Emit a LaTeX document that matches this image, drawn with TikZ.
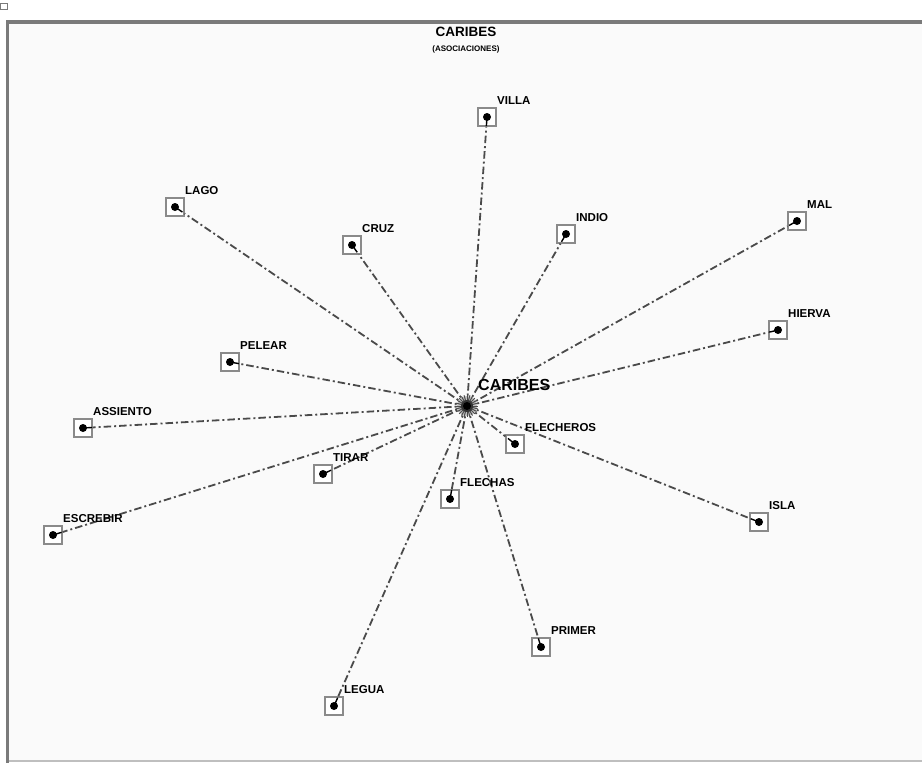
\documentclass[tikz,border=0pt]{standalone}
\usepackage{fontspec}
\setmainfont{Liberation Sans}
\usetikzlibrary{calc}
\definecolor{edgecol}{HTML}{4A4A4A}
\definecolor{framecol}{HTML}{7A7A7A}
\definecolor{boxcol}{HTML}{8A8A8A}
\begin{document}
\begin{tikzpicture}[x=1pt,y=-1pt,
  edge/.style={draw=edgecol,line width=1.8pt,dash pattern=on 7.5pt off 3pt on 2pt off 3pt},
  tipline/.style={draw=black,line width=1.4pt},
  nbox/.style={draw=boxcol,line width=1.2pt,fill=white,minimum size=18pt,inner sep=0pt,rectangle},
  ndot/.style={circle,fill=black,minimum size=8pt,inner sep=0pt},
  nlabel/.style={anchor=base west,font=\fontsize{11.5}{12}\selectfont\bfseries,inner sep=0pt}
]
\useasboundingbox (0,0) rectangle (922,763);
\fill[white] (0,0) rectangle (922,763);
\fill[black!2] (9,23) rectangle (922,760);
% frame
\draw[framecol,line width=3.5pt] (7.5,763) -- (7.5,22) -- (922,22);
\draw[black!25,line width=1.5pt] (9,761) -- (922,761);
\draw[framecol,line width=0.8pt] (0.5,3.5) rectangle (7.5,9.5);
% title
\node[font=\fontsize{13.5}{14}\selectfont\bfseries] (title) at (466,32) {CARIBES};
\node[font=\fontsize{8}{9}\selectfont\bfseries] (subtitle) at (466,49.5) {(ASOCIACIONES)};
% hub
\coordinate (hub) at (467,406);
% nodes
\foreach \nm/\x/\y in {VILLA/487/117, LAGO/175/207, CRUZ/352/245, INDIO/566/234, MAL/797/221,
  HIERVA/778/330, PELEAR/230/362, ASSIENTO/83/428, TIRAR/323/474, FLECHEROS/515/444,
  FLECHAS/450/499, ISLA/759/522, ESCREBIR/53/535, PRIMER/541/647, LEGUA/334/706}{
  \node[nbox] (b\nm) at (\x,\y) {};
}
\foreach \nm in {VILLA,LAGO,CRUZ,INDIO,MAL,HIERVA,PELEAR,ASSIENTO,TIRAR,FLECHEROS,FLECHAS,ISLA,ESCREBIR,PRIMER,LEGUA}{
  \draw[edge] (hub) -- (b\nm);
  \draw[tipline] (b\nm.center) -- ($(b\nm.center)!9pt!(hub)$);
  \node[ndot] (d\nm) at (b\nm.center) {};
}
\foreach \nm/\x/\y in {VILLA/487/117, LAGO/175/207, CRUZ/352/245, INDIO/566/234, MAL/797/221,
  HIERVA/778/330, PELEAR/230/362, ASSIENTO/83/428, TIRAR/323/474, FLECHEROS/515/444,
  FLECHAS/450/499, ISLA/759/522, ESCREBIR/53/535, PRIMER/541/647, LEGUA/334/706}{
  \node[nlabel] (l\nm) at (\x+10,\y-13) {\nm};
}
% hub burst
\fill[gray!50] (hub) circle (10pt);
\foreach \a in {0,15,...,345}{\draw[gray!60!black,line width=1pt] (hub) -- ++(\a:11pt);}
\fill[gray!40!black] (hub) circle (6pt);
\node[ndot] (dhub) at (hub) {};
\node[anchor=base west,font=\fontsize{16}{17}\selectfont\bfseries,inner sep=0pt] (lhub) at (478,390) {CARIBES};
\end{tikzpicture}
\end{document}
